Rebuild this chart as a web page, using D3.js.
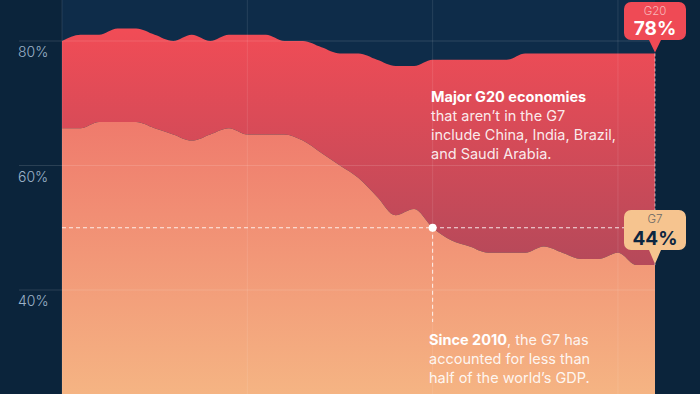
<!DOCTYPE html>
<html>
<head>
<script src="https://d3js.org/d3.v7.min.js"></script>
<style>
  body { margin: 0; background: #0b243b; }
  text { font-family: Inter, "Noto Sans", sans-serif; }
</style>
</head>
<body>
<div id="chart"></div>
<script>
// share of world GDP (%), 1990-2022
var years = d3.range(1990, 2023);
var g20Share = [80, 81, 81, 82, 82, 81, 80, 81, 80, 81, 81, 81, 80, 80, 79, 78,
                78, 77, 76, 76, 77, 77, 77, 77, 77, 78, 78, 78, 78, 78, 78, 78, 78];
var g7Share  = [66, 66, 67, 67, 67, 66, 65, 64, 65, 66, 65, 65, 65, 64, 62, 60,
                58, 55, 52, 53, 50, 48, 47, 46, 46, 46, 47, 46, 45, 45, 46, 44, 44];
var yTicks = [40, 60, 80];
var xTicks = [1990, 2000, 2010, 2020];
var crossYear = 2010, crossValue = 50;

var width = 700, height = 394;

var svg = d3.select("#chart").append("svg")
  .attr("width", width)
  .attr("height", height);

var x = d3.scaleLinear().domain([1990, 2022]).range([62, 655]);
var y = d3.scaleLinear().domain([40, 80]).range([290, 41]);

var defs = svg.append("defs");
var gRed = defs.append("linearGradient").attr("id", "gRed")
  .attr("gradientUnits", "userSpaceOnUse").attr("x1", 0).attr("x2", 0).attr("y1", 30).attr("y2", 270);
gRed.append("stop").attr("offset", 0).attr("stop-color", "#f14c56");
gRed.append("stop").attr("offset", 1).attr("stop-color", "#b4495a");
var gSal = defs.append("linearGradient").attr("id", "gSal")
  .attr("gradientUnits", "userSpaceOnUse").attr("x1", 0).attr("x2", 0).attr("y1", 120).attr("y2", 394);
gSal.append("stop").attr("offset", 0).attr("stop-color", "#ef7a6c");
gSal.append("stop").attr("offset", 1).attr("stop-color", "#f5b483");

// plot band
svg.append("rect").attr("x", x(1990)).attr("y", 0)
  .attr("width", x(2022) - x(1990)).attr("height", height)
  .attr("fill", "#0e2c49");

var data = years.map(function (d, i) { return { year: d, g20: g20Share[i], g7: g7Share[i] }; });

var redArea = d3.area()
  .x(function (d) { return x(d.year); })
  .y0(function (d) { return y(d.g7); })
  .y1(function (d) { return y(d.g20); })
  .curve(d3.curveMonotoneX);

var g7Area = d3.area()
  .x(function (d) { return x(d.year); })
  .y0(height + 10)
  .y1(function (d) { return y(d.g7); })
  .curve(d3.curveMonotoneX);

svg.append("path").datum(data).attr("d", redArea).attr("fill", "url(#gRed)");
svg.append("path").datum(data).attr("d", g7Area).attr("fill", "url(#gSal)");

// grid
svg.append("g").selectAll("line").data(yTicks).enter().append("line")
  .attr("x1", 19).attr("x2", x(2022))
  .attr("y1", function (d) { return y(d); }).attr("y2", function (d) { return y(d); })
  .attr("stroke", "#ffffff").attr("stroke-opacity", 0.13);
svg.append("g").selectAll("line").data(xTicks).enter().append("line")
  .attr("x1", function (d) { return x(d); }).attr("x2", function (d) { return x(d); })
  .attr("y1", 0).attr("y2", height)
  .attr("stroke", "#ffffff").attr("stroke-opacity", 0.1);

svg.append("g").selectAll("text").data(yTicks).enter().append("text")
  .attr("x", 18).attr("y", function (d) { return y(d) + 16; })
  .attr("fill", "#9db3c9").attr("font-size", 14).attr("font-weight", 300)
  .text(function (d) { return d + "%"; });

// 50% marker
svg.append("line")
  .attr("x1", x(1990)).attr("x2", 626)
  .attr("y1", y(crossValue)).attr("y2", y(crossValue))
  .attr("stroke", "#fff").attr("stroke-opacity", 0.85).attr("stroke-dasharray", "4,3");
svg.append("line")
  .attr("x1", x(crossYear)).attr("x2", x(crossYear))
  .attr("y1", y(crossValue)).attr("y2", 322)
  .attr("stroke", "#fff").attr("stroke-opacity", 0.85).attr("stroke-dasharray", "4,3");
svg.append("circle").attr("cx", x(crossYear)).attr("cy", y(crossValue)).attr("r", 4).attr("fill", "#fff");

// end marker line
var last = data[data.length - 1];
svg.append("line")
  .attr("x1", x(last.year)).attr("x2", x(last.year))
  .attr("y1", y(last.g20)).attr("y2", y(last.g7))
  .attr("stroke", "#fff").attr("stroke-opacity", 0.6).attr("stroke-dasharray", "3,2");

// annotations
function note(x0, y0, bold, rest) {
  var t = svg.append("text").attr("x", x0).attr("y", y0)
    .attr("font-size", 14.5).attr("fill", "#fff");
  var first = t.append("tspan").attr("x", x0);
  first.append("tspan").attr("font-weight", 700).text(bold[0]);
  if (bold[1]) first.append("tspan").attr("fill-opacity", 0.9).text(bold[1]);
  rest.forEach(function (r) {
    t.append("tspan").attr("x", x0).attr("dy", 19).attr("fill-opacity", 0.9).text(r);
  });
}
note(431, 102, ["Major G20 economies"], ["that aren\u2019t in the G7", "include China, India, Brazil,", "and Saudi Arabia."]);
note(429, 345, ["Since 2010", ", the G7 has"], ["accounted for less than", "half of the world\u2019s GDP."]);

// callouts
function callout(cx, top, h, tipY, fill, label, value, labelColor, valueColor) {
  var w = 62, r = 7, l = cx - w / 2, rgt = cx + w / 2, b = top + h;
  var p = d3.path();
  p.moveTo(l + r, top);
  p.lineTo(rgt - r, top);
  p.arcTo(rgt, top, rgt, top + r, r);
  p.lineTo(rgt, b - r);
  p.arcTo(rgt, b, rgt - r, b, r);
  p.lineTo(cx + 6, b);
  p.lineTo(cx, tipY);
  p.lineTo(cx - 6, b);
  p.lineTo(l + r, b);
  p.arcTo(l, b, l, b - r, r);
  p.lineTo(l, top + r);
  p.arcTo(l, top, l + r, top, r);
  p.closePath();
  svg.append("path").attr("d", p.toString()).attr("fill", fill);
  svg.append("text").attr("x", cx).attr("y", top + 13).attr("text-anchor", "middle")
    .attr("font-size", 11.5).attr("font-weight", 300).attr("fill", labelColor).text(label);
  svg.append("text").attr("x", cx).attr("y", top + h - 5).attr("text-anchor", "middle")
    .attr("font-size", 19).attr("font-weight", 700).attr("fill", valueColor).text(value);
}
callout(x(last.year), 2, 38, y(last.g20) - 1, "#ef4a55", "G20", last.g20 + "%", "#f8b7b9", "#ffffff");
callout(x(last.year), 210, 40, y(last.g7) - 1, "#f6c48f", "G7", last.g7 + "%", "#6b6a66", "#0d2640");
</script>
</body>
</html>
